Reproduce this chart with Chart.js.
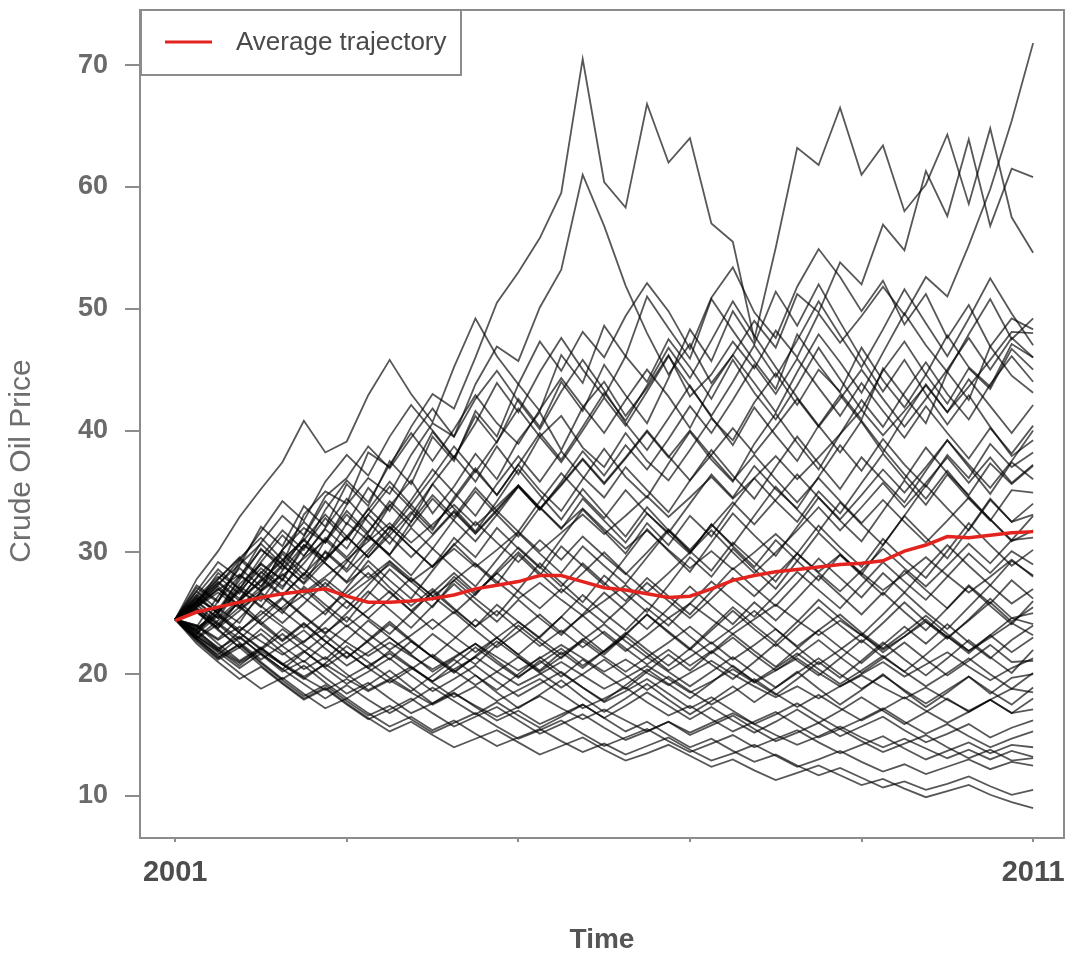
<!DOCTYPE html>
<html lang="en">
<head>
<meta charset="utf-8">
<title>Crude Oil Price - simulated trajectories</title>
<script src="https://cdn.jsdelivr.net/npm/chart.js@4.4.0/dist/chart.umd.min.js"></script>
<style>
  html, body { margin: 0; padding: 0; background: #fff; }
  #wrap { width: 1086px; height: 969px; }
</style>
</head>
<body>
<div id="wrap"><canvas id="grafico-petroleo" width="1086" height="969"></canvas></div>
<script>
// Time axis (quarterly steps)
const years = [
    2001, 2001.25, 2001.5, 2001.75, 2002, 2002.25, 2002.5, 2002.75, 2003, 2003.25,
    2003.5, 2003.75, 2004, 2004.25, 2004.5, 2004.75, 2005, 2005.25, 2005.5, 2005.75,
    2006, 2006.25, 2006.5, 2006.75, 2007, 2007.25, 2007.5, 2007.75, 2008, 2008.25,
    2008.5, 2008.75, 2009, 2009.25, 2009.5, 2009.75, 2010, 2010.25, 2010.5, 2010.75,
    2011
]

// Red line
const avgTrajectory = [
    24.4, 25.1, 25.5, 25.9, 26.3, 26.6, 26.8, 27.0, 26.4, 25.9,
    25.9, 26.0, 26.2, 26.5, 27.0, 27.3, 27.6, 28.1, 28.1, 27.6,
    27.1, 26.9, 26.6, 26.3, 26.4, 27.0, 27.7, 28.1, 28.4, 28.6,
    28.8, 29.0, 29.1, 29.3, 30.1, 30.6, 31.3, 31.2, 31.4, 31.6,
    31.7
]

// Simulated paths (black lines)
const path01 = [24.5, 26.2, 25.1, 27.4, 29.0, 27.8, 30.6, 29.5, 32.4, 31.0,
    33.8, 35.9, 33.2, 35.4, 38.1, 36.0, 39.2, 41.5, 38.4, 41.9,
    44.0, 41.2, 43.5, 46.2, 42.8, 44.6, 47.3, 45.1, 48.2, 46.0,
    49.6, 47.2, 49.4, 51.8, 49.5, 52.6, 51.0, 55.2, 59.8, 65.4, 71.8]
const path02 = [24.5, 26.5, 25.0, 28.0, 30.2, 29.0, 33.1, 35.0, 34.0, 38.2,
    37.0, 40.3, 43.0, 41.8, 46.0, 50.5, 53.0, 55.8, 59.5, 70.5,
    60.4, 58.3, 66.8, 62.0, 64.0, 57.0, 55.5, 47.5, 55.0, 63.2,
    61.8, 66.5, 61.0, 63.4, 58.0, 60.2, 64.3, 58.6, 64.8, 57.5, 54.6]
const path03 = [24.5, 23.2, 26.0, 28.1, 26.9, 30.2, 32.0, 30.8, 33.9, 36.1,
    34.8, 38.0, 40.6, 39.5, 43.8, 46.9, 45.7, 50.1, 53.2, 61.0,
    56.8, 51.9, 48.0, 44.6, 47.1, 43.9, 46.2, 49.0, 46.8, 51.2,
    49.7, 53.8, 52.0, 56.9, 54.8, 61.3, 57.6, 63.9, 56.8, 61.5, 60.8]
const path04 = [24.5, 27.8, 30.1, 32.9, 35.2, 37.4, 40.8, 38.2, 39.1, 42.9,
    45.8, 43.0, 40.7, 45.2, 49.2, 46.1, 43.8, 47.3, 44.9, 48.1,
    46.0, 49.4, 52.1, 49.8, 46.7, 50.9, 53.4, 49.7, 47.6, 51.8,
    54.9, 52.6, 49.8, 52.3, 48.7, 51.2, 47.6, 50.3, 46.9, 49.2, 48.3]
const path05 = [24.5, 25.8, 28.3, 27.0, 29.6, 31.8, 30.2, 33.5, 35.9, 34.1,
    37.2, 39.8, 37.5, 40.1, 42.9, 40.6, 38.9, 41.7, 44.3, 42.0,
    39.8, 42.5, 45.0, 42.8, 40.2, 43.6, 46.2, 43.9, 41.5, 44.8,
    47.9, 45.6, 43.1, 46.4, 49.6, 47.0, 44.8, 47.9, 50.8, 47.5, 49.2]
const path06 = [24.5, 23.9, 26.4, 28.7, 27.2, 29.9, 28.1, 31.0, 33.4, 31.6,
    34.2, 32.5, 35.6, 37.9, 35.8, 38.7, 36.4, 39.5, 41.2, 38.6,
    37.0, 39.8, 37.5, 35.9, 38.4, 41.0, 39.2, 42.3, 44.7, 42.1,
    45.0, 43.2, 46.8, 44.1, 41.9, 44.6, 47.8, 45.2, 43.6, 47.1, 46.0]
const path07 = [24.5, 27.1, 25.9, 29.3, 31.7, 34.2, 32.6, 35.8, 38.0, 36.3,
    39.5, 42.1, 40.0, 37.8, 40.6, 43.9, 41.5, 44.8, 47.6, 45.0,
    42.8, 46.1, 44.0, 47.5, 45.2, 42.6, 45.8, 43.1, 40.9, 43.7,
    46.8, 44.2, 41.7, 44.9, 47.3, 44.6, 42.2, 45.1, 43.4, 46.7, 45.0]
const path08 = [24.5, 25.2, 23.8, 26.1, 28.4, 27.0, 29.7, 31.9, 30.3, 33.1,
    35.4, 33.6, 31.8, 34.5, 36.9, 34.7, 37.2, 35.1, 33.4, 36.0,
    38.5, 36.2, 34.5, 37.3, 39.9, 37.6, 35.8, 38.9, 41.4, 39.0,
    36.8, 39.7, 42.5, 40.3, 43.1, 45.6, 43.0, 40.9, 43.8, 46.1, 44.0]
const path09 = [24.5, 26.8, 29.2, 27.9, 30.8, 33.0, 31.4, 34.6, 36.1, 38.7,
    36.9, 39.4, 41.8, 39.5, 42.6, 44.9, 42.4, 40.1, 43.2, 45.8,
    43.3, 40.6, 38.4, 41.0, 43.7, 41.1, 38.8, 41.9, 39.6, 37.5,
    40.4, 42.9, 40.7, 38.2, 41.1, 43.8, 41.5, 44.2, 42.0, 39.8, 42.1]
const path10 = [24.5, 23.6, 25.4, 24.2, 26.8, 28.9, 27.5, 30.1, 28.6, 31.3,
    29.8, 32.5, 34.7, 32.9, 35.3, 33.4, 31.7, 34.2, 36.5, 34.6,
    32.8, 35.1, 33.2, 31.6, 34.0, 36.4, 34.5, 37.1, 35.2, 33.6,
    36.2, 38.8, 36.7, 39.3, 37.2, 35.4, 38.0, 36.1, 38.9, 37.0, 38.2]
const path11 = [24.5, 25.9, 24.6, 27.2, 26.0, 28.5, 30.6, 29.1, 27.6, 29.9,
    32.1, 30.4, 28.8, 31.2, 29.6, 32.0, 30.3, 28.7, 31.1, 33.5,
    31.7, 29.9, 32.4, 30.6, 33.0, 31.3, 33.8, 36.1, 34.2, 32.5,
    35.0, 33.2, 35.7, 38.1, 36.0, 38.6, 36.5, 34.7, 37.3, 35.6, 37.1]
const path12 = [24.5, 26.3, 28.0, 26.6, 29.1, 27.7, 30.4, 32.8, 31.0, 33.6,
    31.9, 34.3, 36.8, 34.9, 33.0, 35.6, 37.9, 35.8, 38.3, 36.2,
    34.5, 37.0, 35.1, 33.3, 35.9, 38.4, 36.3, 34.4, 37.0, 39.5,
    37.3, 35.2, 37.8, 35.9, 34.1, 36.7, 39.2, 37.0, 34.8, 37.4, 36.0]
const path13 = [24.5, 23.4, 25.1, 26.9, 25.5, 27.8, 26.3, 24.9, 27.1, 29.3,
    27.7, 26.2, 28.5, 30.7, 29.0, 27.4, 29.8, 28.1, 30.5, 28.9,
    27.3, 29.6, 31.9, 30.1, 28.4, 30.8, 33.2, 31.4, 29.7, 32.1,
    34.5, 32.6, 30.9, 33.4, 35.9, 33.9, 36.4, 34.4, 32.6, 35.1, 34.9]
const path14 = [24.5, 25.6, 27.3, 29.4, 27.9, 30.2, 32.5, 30.8, 33.1, 31.4,
    29.8, 32.0, 30.3, 32.7, 35.0, 33.1, 31.3, 33.7, 31.9, 34.4,
    32.6, 30.8, 33.2, 31.5, 29.9, 32.3, 30.6, 33.0, 35.4, 33.5,
    31.7, 34.1, 32.3, 30.6, 33.0, 35.5, 33.6, 31.8, 34.3, 32.5, 34.0]
const path15 = [24.5, 24.0, 22.9, 24.6, 26.4, 25.0, 27.2, 25.7, 24.3, 26.5,
    28.6, 27.0, 25.5, 27.7, 26.2, 24.8, 26.9, 29.1, 27.5, 25.9,
    28.1, 26.6, 25.1, 27.3, 29.6, 28.0, 30.3, 28.6, 27.0, 29.3,
    31.6, 29.9, 28.2, 30.6, 33.0, 31.2, 29.5, 31.9, 34.4, 32.5, 33.1]
const path16 = [24.5, 26.0, 27.6, 26.2, 28.3, 30.1, 28.6, 27.1, 29.2, 31.4,
    29.7, 28.1, 30.3, 28.7, 27.2, 29.4, 31.6, 29.9, 28.3, 30.5,
    28.9, 27.4, 29.6, 31.8, 30.1, 28.5, 30.8, 29.2, 27.6, 29.9,
    32.2, 30.4, 28.8, 31.1, 29.4, 27.9, 30.1, 32.4, 30.6, 28.9, 30.2]
const path17 = [24.5, 23.1, 21.9, 23.5, 25.2, 23.9, 22.6, 24.3, 26.0, 24.6,
    23.3, 25.0, 26.8, 25.3, 23.9, 25.7, 24.3, 23.0, 24.7, 26.5,
    25.0, 23.6, 25.4, 24.0, 25.8, 27.6, 26.1, 24.7, 26.5, 28.4,
    26.9, 25.4, 27.3, 29.2, 27.6, 26.1, 28.0, 29.9, 28.3, 30.1, 29.0]
const path18 = [24.5, 25.4, 24.1, 26.0, 27.8, 26.4, 28.3, 26.8, 25.4, 27.3,
    29.2, 27.6, 26.1, 28.0, 26.5, 28.5, 30.4, 28.8, 27.2, 29.1,
    27.5, 26.0, 27.9, 26.4, 24.9, 26.8, 28.7, 27.1, 25.6, 27.5,
    29.5, 27.9, 26.3, 28.3, 26.7, 28.7, 30.6, 28.9, 27.3, 29.3, 28.1]
const path19 = [24.5, 23.3, 24.8, 23.4, 22.1, 23.7, 22.4, 21.2, 22.8, 24.4,
    23.0, 21.7, 23.3, 22.0, 20.8, 22.4, 24.0, 22.6, 21.3, 22.9,
    21.6, 23.2, 24.9, 23.5, 22.1, 23.8, 25.5, 24.0, 22.6, 24.3,
    26.1, 24.6, 23.2, 24.9, 26.7, 25.1, 23.7, 25.5, 27.3, 25.8, 27.0]
const path20 = [24.5, 25.7, 24.2, 22.9, 24.5, 26.2, 24.7, 23.3, 25.0, 26.8,
    25.3, 23.8, 25.6, 27.4, 25.8, 24.3, 26.1, 24.6, 23.2, 24.9,
    26.7, 25.2, 23.7, 25.4, 27.2, 25.6, 24.1, 25.9, 24.4, 26.2,
    28.1, 26.5, 24.9, 26.7, 25.1, 23.6, 25.4, 27.2, 25.6, 24.1, 26.0]
const path21 = [24.5, 23.0, 24.4, 25.9, 24.3, 22.8, 24.2, 22.7, 21.3, 22.8,
    24.3, 22.8, 21.4, 22.9, 24.5, 23.0, 21.6, 23.1, 24.7, 23.2,
    21.8, 23.3, 24.9, 23.4, 22.0, 23.6, 25.2, 23.7, 22.3, 23.9,
    25.5, 24.0, 22.6, 24.2, 25.9, 24.3, 22.9, 24.5, 26.2, 24.6, 25.0]
const path22 = [24.5, 22.9, 21.6, 23.0, 21.7, 20.4, 21.8, 23.2, 21.8, 20.5,
    21.9, 20.6, 19.4, 20.8, 22.2, 20.9, 19.7, 21.1, 19.8, 21.2,
    20.0, 18.8, 20.2, 21.6, 20.3, 21.8, 23.3, 21.9, 20.6, 22.1,
    23.6, 22.2, 20.9, 22.4, 23.9, 22.5, 24.1, 22.6, 21.3, 22.8, 24.0]
const path23 = [24.5, 25.1, 23.6, 22.2, 23.7, 22.3, 21.0, 22.5, 24.0, 22.6,
    21.2, 22.7, 21.4, 20.1, 21.5, 23.0, 21.6, 20.3, 21.8, 20.5,
    21.9, 23.4, 22.0, 20.7, 22.1, 20.8, 19.6, 21.0, 22.5, 21.1,
    19.9, 21.3, 22.8, 21.4, 20.2, 21.6, 23.1, 21.7, 23.2, 21.8, 23.0]
const path24 = [24.5, 23.4, 22.0, 20.7, 22.1, 20.8, 19.6, 20.9, 22.3, 21.0,
    19.7, 18.6, 19.9, 21.2, 19.9, 18.7, 20.0, 21.4, 20.1, 18.9,
    17.8, 19.1, 20.4, 19.2, 18.0, 19.3, 20.7, 19.4, 18.3, 19.6,
    21.0, 19.7, 21.1, 22.6, 21.2, 19.9, 21.3, 22.8, 21.4, 20.1, 22.0]
const path25 = [24.5, 25.8, 27.2, 25.6, 24.1, 25.5, 27.0, 25.4, 23.9, 25.3,
    26.8, 25.2, 23.7, 25.1, 23.6, 22.2, 23.5, 24.9, 23.4, 24.8,
    23.3, 21.9, 23.2, 24.6, 23.1, 21.7, 23.0, 21.6, 20.3, 21.5,
    22.8, 21.4, 20.1, 21.3, 22.6, 21.2, 19.9, 21.1, 22.4, 21.0, 21.1]
const path26 = [24.5, 22.8, 21.3, 22.5, 21.0, 19.6, 20.7, 19.3, 18.0, 19.1,
    20.3, 18.9, 17.6, 18.7, 19.9, 18.5, 17.2, 18.3, 19.5, 18.1,
    16.9, 18.0, 19.2, 17.9, 16.7, 17.8, 19.0, 17.7, 18.9, 20.2,
    18.8, 17.5, 18.7, 20.0, 18.6, 17.3, 18.5, 19.8, 18.4, 19.7, 20.0]
const path27 = [24.5, 25.4, 24.0, 25.5, 24.1, 22.7, 24.1, 22.7, 21.4, 22.7,
    24.1, 22.7, 21.4, 20.2, 21.4, 22.7, 21.4, 20.2, 21.4, 22.7,
    21.4, 20.2, 21.4, 20.2, 19.0, 20.2, 21.4, 20.1, 18.9, 20.1,
    21.3, 20.0, 18.8, 19.9, 18.7, 17.6, 18.7, 19.8, 18.6, 17.5, 18.9]
const path28 = [24.5, 23.1, 21.8, 20.5, 21.7, 20.4, 19.2, 18.0, 19.1, 17.9,
    16.8, 17.8, 18.9, 17.8, 16.7, 17.7, 16.6, 15.6, 16.5, 17.5,
    16.4, 17.4, 18.5, 17.4, 16.3, 17.3, 16.2, 15.2, 16.1, 17.1,
    16.0, 17.0, 18.1, 17.0, 15.9, 16.9, 18.0, 16.9, 17.9, 16.8, 18.0]
const path29 = [24.5, 23.6, 24.9, 23.4, 22.0, 23.3, 21.9, 20.6, 21.8, 20.5,
    19.3, 20.4, 21.6, 20.3, 19.1, 20.2, 21.4, 20.1, 18.9, 20.0,
    21.2, 19.9, 18.7, 19.8, 18.6, 17.5, 18.5, 19.6, 18.4, 17.3,
    18.3, 17.2, 16.2, 17.1, 18.1, 17.0, 16.0, 16.9, 17.9, 16.8, 17.1]
const path30 = [24.5, 22.5, 21.0, 19.6, 20.6, 19.2, 17.9, 18.8, 17.5, 16.3,
    17.1, 18.0, 16.8, 15.7, 16.5, 17.3, 16.2, 15.1, 15.9, 16.7,
    15.6, 14.6, 15.3, 16.1, 15.0, 15.8, 16.6, 15.5, 14.5, 15.2,
    16.0, 14.9, 15.7, 16.5, 15.4, 14.4, 15.1, 15.9, 14.8, 15.6, 16.2]
const path31 = [24.5, 22.9, 21.4, 22.4, 20.9, 19.5, 18.2, 19.1, 17.8, 16.6,
    17.4, 16.3, 15.2, 16.0, 16.8, 15.7, 14.7, 15.4, 16.2, 15.1,
    14.1, 14.8, 15.5, 14.5, 13.6, 14.3, 15.0, 14.0, 14.7, 15.4,
    14.4, 13.5, 14.2, 14.9, 13.9, 13.0, 13.7, 14.4, 13.5, 14.2, 14.0]
const path32 = [24.5, 25.3, 23.7, 22.2, 23.3, 21.8, 20.4, 21.4, 20.0, 18.7,
    19.6, 20.6, 19.3, 18.1, 19.0, 17.8, 18.7, 19.6, 18.4, 17.2,
    18.0, 18.9, 17.7, 16.6, 17.4, 16.3, 15.3, 16.1, 16.9, 15.8,
    14.8, 15.5, 14.5, 13.6, 14.3, 15.0, 14.0, 13.1, 13.8, 12.9, 13.1]
const path33 = [24.5, 23.0, 21.5, 20.1, 18.8, 19.7, 18.4, 17.2, 18.0, 16.8,
    15.7, 16.5, 15.4, 16.2, 15.1, 14.1, 14.8, 15.5, 14.5, 13.6,
    14.3, 13.4, 14.1, 14.8, 13.8, 12.9, 13.5, 14.2, 13.3, 12.4,
    13.0, 13.7, 12.8, 12.0, 12.6, 11.8, 12.4, 13.0, 12.2, 12.8, 12.5]
const path34 = [24.5, 23.6, 22.1, 23.1, 21.6, 20.2, 21.1, 19.7, 18.4, 19.3,
    18.0, 16.8, 17.6, 18.5, 17.3, 16.2, 17.0, 15.9, 16.7, 17.5,
    16.4, 15.3, 16.1, 15.0, 14.0, 14.7, 13.7, 12.8, 13.4, 12.5,
    11.7, 12.3, 11.5, 10.7, 11.2, 10.5, 11.0, 11.6, 10.8, 10.1, 10.5]
const path35 = [24.5, 22.7, 21.2, 22.2, 20.7, 19.3, 18.0, 18.9, 17.6, 16.4,
    15.3, 16.1, 15.0, 14.0, 14.7, 15.4, 14.4, 13.4, 14.1, 14.8,
    13.8, 12.9, 13.5, 14.2, 13.3, 12.4, 13.0, 12.1, 11.3, 11.9,
    12.5, 11.7, 10.9, 11.4, 10.6, 9.9, 10.4, 10.9, 10.1, 9.5, 9.0]
const path36 = [24.5, 26.1, 27.8, 29.6, 28.0, 26.5, 28.2, 30.0, 28.4, 30.2,
    32.1, 30.4, 28.8, 30.6, 32.5, 30.8, 29.2, 31.0, 29.4, 31.3,
    29.7, 28.2, 30.0, 31.9, 30.2, 32.1, 34.1, 32.3, 34.3, 36.4,
    34.5, 32.7, 34.7, 36.8, 34.9, 37.0, 39.2, 37.2, 35.3, 37.5, 40.0]
const path37 = [24.5, 23.7, 25.3, 27.0, 25.6, 24.2, 25.8, 27.5, 26.0, 24.6,
    26.2, 27.9, 26.4, 25.0, 26.6, 28.3, 26.8, 25.4, 27.0, 25.6,
    24.2, 25.8, 27.5, 26.0, 24.6, 26.2, 27.9, 26.4, 28.1, 29.9,
    28.3, 26.8, 28.5, 30.3, 28.7, 27.2, 28.9, 30.7, 29.1, 31.0, 31.2]
const path38 = [24.5, 22.9, 24.1, 22.6, 21.2, 22.4, 23.6, 22.1, 20.7, 21.8,
    23.0, 21.6, 20.2, 21.3, 22.5, 21.1, 19.8, 20.9, 22.1, 20.7,
    21.9, 23.1, 21.7, 20.3, 21.4, 22.6, 21.2, 22.4, 23.7, 22.2,
    20.8, 22.0, 23.3, 21.8, 23.1, 24.5, 23.0, 24.4, 25.9, 24.3, 25.5]
const path39 = [24.5, 24.0, 22.5, 21.1, 22.2, 20.8, 21.9, 20.5, 19.2, 20.2,
    21.3, 19.9, 18.6, 19.6, 20.7, 19.4, 18.2, 19.2, 20.2, 18.9,
    17.7, 18.6, 19.6, 18.4, 17.2, 18.1, 17.0, 15.9, 16.7, 17.6,
    16.5, 15.5, 16.3, 17.2, 16.1, 15.1, 15.9, 14.9, 14.0, 14.7, 15.3]
const path40 = [24.5, 26.5, 28.6, 27.0, 29.2, 31.4, 29.7, 32.0, 34.4, 32.5,
    30.7, 33.1, 35.6, 33.6, 31.7, 34.2, 36.8, 34.7, 32.7, 35.2,
    33.2, 31.3, 33.7, 31.8, 30.0, 32.3, 30.5, 28.8, 31.0, 29.3,
    27.7, 29.8, 28.1, 26.5, 28.5, 26.9, 25.4, 27.3, 25.8, 27.7, 26.2]
const path41 = [24.5, 25.9, 27.4, 29.0, 30.7, 29.0, 31.0, 33.1, 31.3, 33.5,
    35.8, 33.9, 36.2, 38.7, 36.6, 39.1, 41.8, 39.5, 37.4, 40.0,
    42.7, 40.4, 43.2, 46.1, 43.6, 41.2, 44.0, 47.0, 44.4, 47.4,
    50.6, 47.8, 45.2, 48.3, 51.6, 48.8, 46.1, 49.2, 52.5, 49.6, 47.0]
const path42 = [24.5, 26.8, 25.3, 27.7, 30.3, 28.6, 31.3, 34.2, 32.3, 35.3,
    33.4, 36.5, 39.9, 37.7, 41.2, 39.0, 42.6, 40.3, 44.0, 41.6,
    45.4, 42.9, 40.6, 44.3, 48.3, 45.7, 49.8, 47.1, 51.4, 48.6,
    52.0, 48.9, 45.9, 43.2, 45.8, 43.0, 40.5, 42.9, 40.3, 37.9, 39.2]
const path43 = [24.5, 25.5, 27.0, 25.5, 27.2, 29.0, 27.4, 29.3, 31.3, 29.6,
    31.7, 33.9, 32.0, 34.3, 36.7, 34.7, 37.2, 39.8, 37.6, 40.3,
    43.1, 40.8, 43.7, 46.8, 44.3, 47.4, 50.6, 47.8, 45.2, 42.7,
    40.4, 38.2, 40.8, 38.5, 36.4, 34.4, 36.7, 34.6, 32.7, 30.9, 31.8]
const path44 = [24.5, 27.3, 26.0, 28.9, 32.1, 30.5, 33.8, 32.1, 35.6, 33.8,
    37.5, 35.6, 39.5, 37.5, 41.6, 39.5, 43.8, 41.6, 46.2, 43.9,
    48.6, 46.1, 51.0, 48.4, 45.9, 50.8, 48.2, 45.7, 43.4, 47.9,
    45.4, 43.1, 40.9, 45.1, 42.8, 40.6, 44.8, 42.5, 46.9, 44.5, 43.1]
const path45 = [24.5, 26.0, 27.8, 29.5, 31.2, 29.4, 31.0, 29.1, 27.5, 28.9,
    27.1, 25.6, 27.0, 25.4, 23.9, 25.2, 23.7, 22.3, 23.6, 22.2,
    23.5, 22.1, 20.8, 22.0, 20.7, 21.9, 20.6, 19.4, 20.5, 21.7,
    20.4, 19.2, 20.3, 21.5, 20.2, 19.0, 20.1, 21.3, 20.0, 18.8, 20.1]
const path46 = [24.5, 23.8, 25.0, 23.6, 24.9, 26.3, 24.8, 23.4, 24.7, 23.3,
    22.0, 23.2, 24.5, 23.1, 21.8, 23.0, 24.3, 22.9, 21.6, 22.8,
    24.1, 22.7, 21.4, 22.6, 23.9, 22.5, 23.8, 25.2, 23.7, 22.3,
    23.6, 24.9, 23.4, 22.1, 23.4, 24.8, 23.3, 21.9, 23.2, 24.6, 24.1]
const path47 = [24.5, 25.1, 23.8, 25.2, 26.7, 25.2, 23.8, 25.2, 26.7, 28.3,
    26.7, 25.2, 26.7, 28.3, 26.7, 28.3, 30.0, 28.3, 26.7, 28.3,
    30.0, 28.3, 26.7, 28.3, 30.0, 31.8, 30.0, 28.3, 30.0, 31.8,
    33.7, 31.8, 33.7, 35.7, 33.7, 35.7, 37.8, 35.7, 37.8, 35.7, 37.2]
const path48 = [24.5, 26.0, 24.6, 26.1, 27.7, 29.4, 27.8, 29.5, 31.3, 29.6,
    31.4, 33.3, 31.5, 33.4, 31.6, 33.5, 35.5, 33.6, 35.6, 37.7,
    35.7, 37.8, 40.0, 37.9, 35.9, 38.0, 40.2, 38.1, 40.3, 42.6,
    40.3, 42.6, 45.0, 42.6, 40.3, 42.6, 45.0, 47.6, 45.0, 47.6, 46.0]
const path49 = [24.5, 25.6, 26.9, 28.2, 26.8, 28.1, 29.5, 31.0, 29.4, 30.9,
    32.4, 30.8, 32.3, 33.9, 32.2, 33.8, 35.5, 33.7, 32.0, 33.6,
    31.9, 30.3, 31.8, 30.2, 28.7, 30.1, 28.6, 30.0, 31.5, 29.9,
    28.4, 29.8, 28.3, 26.9, 28.2, 29.6, 28.1, 26.7, 28.0, 29.4, 28.0]
const path50 = [24.5, 23.5, 22.2, 21.0, 22.1, 20.9, 19.8, 20.8, 19.7, 20.7,
    21.7, 20.5, 19.4, 20.4, 21.4, 20.2, 19.1, 20.0, 21.0, 19.9,
    18.8, 19.7, 20.7, 19.6, 18.5, 19.4, 20.4, 19.3, 20.3, 21.3,
    20.1, 19.0, 20.0, 21.0, 19.8, 20.8, 21.8, 20.6, 19.5, 20.5, 21.3]
const path51 = [24.5, 25.9, 27.5, 26.0, 27.6, 29.3, 31.1, 29.4, 31.2, 33.1,
    31.3, 29.6, 31.4, 33.3, 31.5, 33.4, 35.4, 33.5, 35.5, 37.6,
    35.6, 37.7, 39.9, 37.8, 40.0, 37.9, 35.9, 38.0, 36.0, 34.1,
    36.1, 34.2, 32.4, 34.3, 32.5, 30.8, 32.6, 34.5, 32.7, 31.0, 33.0]
const path52 = [24.5, 23.2, 22.0, 20.9, 21.9, 20.8, 19.7, 18.7, 19.6, 18.6,
    19.5, 18.5, 17.5, 18.4, 17.4, 16.5, 17.3, 18.2, 17.2, 16.3,
    17.1, 16.2, 15.3, 16.1, 15.2, 16.0, 16.8, 15.9, 15.0, 14.2,
    14.9, 15.7, 14.8, 14.0, 14.7, 13.9, 13.1, 13.8, 13.0, 13.7, 13.2]
const path53 = [24.5, 26.3, 25.0, 26.8, 28.7, 27.2, 29.1, 31.2, 29.6, 31.7,
    33.9, 32.1, 34.4, 32.6, 30.9, 33.1, 35.4, 33.5, 35.8, 38.3,
    36.3, 38.8, 36.8, 39.3, 42.0, 39.8, 42.5, 45.4, 43.0, 45.9,
    43.5, 41.2, 43.9, 41.6, 39.4, 42.0, 39.8, 37.7, 40.2, 38.1, 40.4]
const path54 = [24.5, 25.7, 27.0, 25.6, 26.9, 28.2, 26.7, 28.0, 29.4, 27.9,
    29.3, 27.8, 26.4, 27.7, 29.1, 27.6, 26.2, 27.5, 26.1, 24.8,
    26.0, 27.3, 25.9, 24.6, 25.8, 24.5, 23.3, 24.5, 25.7, 24.4,
    23.2, 24.4, 23.2, 22.0, 23.1, 24.3, 23.1, 21.9, 23.0, 24.2, 23.2]
const path55 = [24.5, 25.5, 26.7, 25.4, 26.6, 25.3, 26.5, 27.8, 26.4, 27.7,
    29.0, 27.6, 28.9, 30.3, 28.8, 30.2, 31.7, 30.1, 31.6, 33.1,
    31.5, 33.0, 34.6, 32.9, 34.5, 36.2, 34.4, 36.1, 37.9, 36.0,
    37.8, 39.7, 41.7, 39.6, 41.6, 43.7, 41.5, 43.6, 45.8, 48.1, 48.0]
const path56 = [24.5, 23.9, 22.8, 23.9, 22.7, 21.6, 22.7, 23.8, 22.6, 21.5,
    22.6, 21.5, 20.4, 21.4, 22.5, 21.4, 20.3, 21.3, 22.4, 21.3,
    20.2, 21.2, 20.1, 19.1, 20.1, 21.1, 20.0, 19.0, 18.1, 19.0,
    18.0, 19.0, 19.9, 18.9, 18.0, 18.9, 17.9, 17.0, 17.9, 18.8, 18.5]

const paths = [path01, path02, path03, path04, path05, path06, path07, path08, path09, path10,
    path11, path12, path13, path14, path15, path16, path17, path18, path19, path20,
    path21, path22, path23, path24, path25, path26, path27, path28, path29, path30,
    path31, path32, path33, path34, path35, path36, path37, path38, path39, path40,
    path41, path42, path43, path44, path45, path46, path47, path48, path49, path50,
    path51, path52, path53, path54, path55, path56]

// Axis ticks
const yTicks = [10, 20, 30, 40, 50, 60, 70]
const xTicks = [2001, 2003, 2005, 2007, 2009, 2011]
const xLabeled = [2001, 2011]

const fontFamily = '"Liberation Sans", Arial, Helvetica, sans-serif'
Chart.defaults.font.family = fontFamily

function toPoints(values) {
    return values.map((v, i) => ({ x: years[i], y: v }))
}

const datasets = [{
    label: 'Average trajectory',
    data: toPoints(avgTrajectory),
    borderColor: '#e3231e',
    borderWidth: 3.5,
    pointRadius: 0,
    order: 0
}]

paths.forEach(p => {
    datasets.push({
        label: '',
        data: toPoints(p),
        borderColor: 'rgba(0, 0, 0, 0.66)',
        borderWidth: 1.8,
        pointRadius: 0,
        order: 1
    })
})

// Frame, legend box and y title
const molduraPlugin = {
    id: 'moldura',
    afterDatasetsDraw(chart) {
        const { ctx, chartArea: a } = chart
        const red = chart.data.datasets[0]
        ctx.save()
        ctx.strokeStyle = '#8c8c8c'
        ctx.lineWidth = 2
        ctx.strokeRect(a.left, a.top, a.right - a.left, a.bottom - a.top)

        // legend
        ctx.fillStyle = '#ffffff'
        ctx.fillRect(a.left + 1, a.top, 320, 65)
        ctx.strokeRect(a.left + 1, a.top, 320, 65)
        ctx.strokeStyle = red.borderColor
        ctx.lineWidth = 3
        ctx.beginPath()
        ctx.moveTo(a.left + 25, a.top + 32)
        ctx.lineTo(a.left + 72, a.top + 32)
        ctx.stroke()
        ctx.fillStyle = '#4a4a4a'
        ctx.font = '26px ' + fontFamily
        ctx.textBaseline = 'middle'
        ctx.textAlign = 'left'
        ctx.fillText(red.label, a.left + 96, a.top + 33)
        ctx.restore()

        // y axis title
        ctx.save()
        ctx.translate(22, (a.top + a.bottom) / 2 + 37)
        ctx.rotate(-Math.PI / 2)
        ctx.textAlign = 'center'
        ctx.textBaseline = 'middle'
        ctx.fillStyle = '#6e6e6e'
        ctx.font = '30px ' + fontFamily
        ctx.fillText('Crude Oil Price', 0, 0)
        ctx.restore()
    }
}

new Chart(document.getElementById('grafico-petroleo'), {
    type: 'line',
    data: { datasets: datasets },
    plugins: [molduraPlugin],
    options: {
        responsive: false,
        animation: false,
        layout: { padding: { top: 10, right: 22, left: 0, bottom: 0 } },
        plugins: {
            legend: { display: false },
            tooltip: { enabled: false }
        },
        scales: {
            x: {
                type: 'linear',
                min: 2000.59,
                max: 2011.36,
                afterBuildTicks: s => { s.ticks = xTicks.map(v => ({ value: v })) },
                afterFit: s => { s.height = 131; s.paddingLeft = 0; s.paddingRight = 0 },
                border: { display: false },
                grid: { drawOnChartArea: false, drawTicks: true, tickLength: 4, color: '#8c8c8c', lineWidth: 2 },
                ticks: {
                    autoSkip: false,
                    maxRotation: 0,
                    padding: 14,
                    color: '#4d4d4d',
                    font: { size: 29, weight: 'bold' },
                    callback: v => xLabeled.includes(v) ? String(v) : ''
                },
                title: {
                    display: true,
                    text: 'Time',
                    color: '#555555',
                    font: { size: 28, weight: 'bold' },
                    padding: { top: 0, bottom: 12 }
                }
            },
            y: {
                min: 6.55,
                max: 74.52,
                afterBuildTicks: s => { s.ticks = yTicks.map(v => ({ value: v })) },
                afterFit: s => { s.width = 140; s.paddingTop = 0; s.paddingBottom = 0 },
                border: { display: false },
                grid: { drawOnChartArea: false, drawTicks: true, tickLength: 15, color: '#8c8c8c', lineWidth: 2 },
                ticks: {
                    padding: 17,
                    color: '#6a6a6a',
                    font: { size: 27, weight: 'bold' }
                }
            }
        }
    }
})
</script>
</body>
</html>
